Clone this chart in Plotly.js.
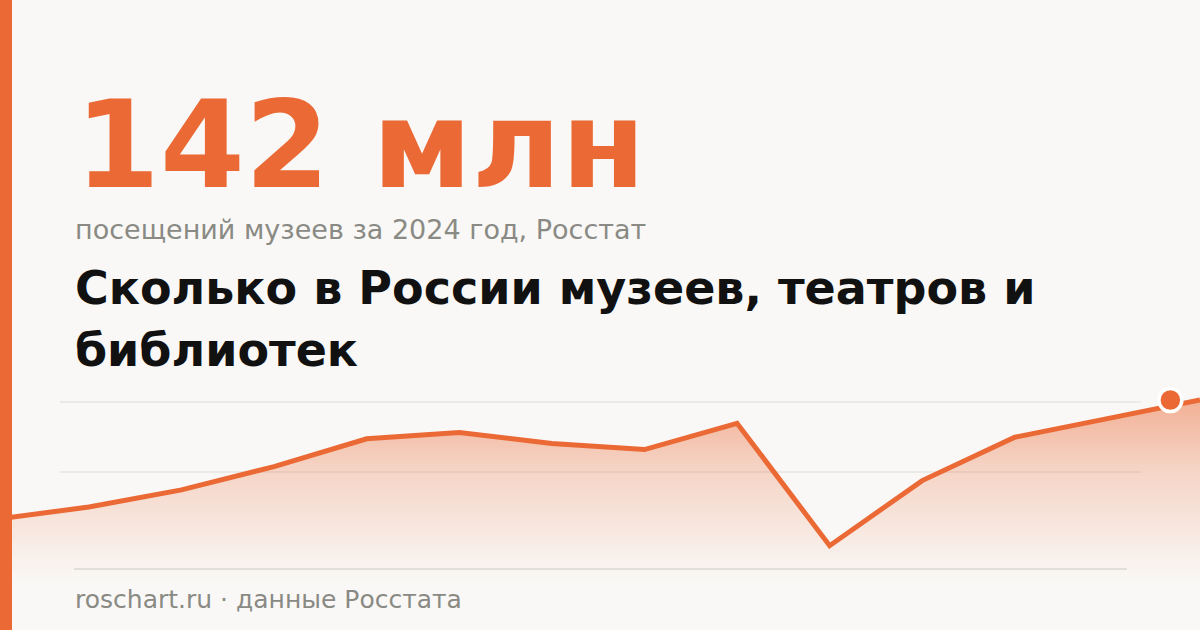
<!DOCTYPE html>
<html>
<head>
<meta charset="utf-8">
<script src="https://cdn.plot.ly/plotly-3.0.1.min.js"></script>
<style>
  html, body { margin: 0; padding: 0; background: #f9f8f6; }
  #chart { width: 1200px; height: 630px; }
</style>
</head>
<body>
<div id="chart"></div>
<script>
// museum visits, mln, Rosstat
var years = [2011, 2012, 2013, 2014, 2015, 2016, 2017, 2018, 2019, 2020, 2021, 2022, 2023, 2024];
var visits = [65, 73, 84, 99, 117, 121, 114, 110, 127, 48, 90, 118, 130, 142];

var lastYear = [years[years.length - 1]];
var lastValue = [visits[visits.length - 1]];

var orange = '#eb6935';
var grey = '#8a8a84';

var line = {
    x: years,
    y: visits,
    type: 'scatter',
    mode: 'lines',
    line: { color: orange, width: 5 },
    fill: 'tozeroy',
    fillgradient: {
        type: 'vertical',
        start: 24,
        stop: 142,
        colorscale: [
            [0, 'rgba(235,105,53,0)'],
            [0.6, 'rgba(235,105,53,0.24)'],
            [1, 'rgba(235,105,53,0.5)']
        ]
    },
    hoverinfo: 'skip'
};

// end dot sits a bit inside the right edge, so it gets its own shifted x axis
var dot = {
    x: lastYear,
    y: lastValue,
    xaxis: 'x2',
    type: 'scatter',
    mode: 'markers',
    marker: { color: orange, size: 23, line: { color: '#ffffff', width: 3.5 } },
    hoverinfo: 'skip'
};

function note(text, ypx, size, color, bold) {
    return {
        text: bold ? '<b>' + text + '</b>' : text,
        xref: 'paper', yref: 'paper',
        x: 73 / 1200, y: 1 - ypx / 630,
        xanchor: 'left', yanchor: 'middle',
        showarrow: false,
        font: { family: 'DejaVu Sans', size: size, color: color }
    };
}

var layout = {
    width: 1200,
    height: 630,
    margin: { l: 0, r: 0, t: 0, b: 0 },
    paper_bgcolor: '#f9f8f6',
    plot_bgcolor: '#f9f8f6',
    showlegend: false,
    xaxis: { range: [2011.04, 2024], visible: false, fixedrange: true },
    xaxis2: { range: [2011.36, 2024.32], overlaying: 'x', visible: false, fixedrange: true },
    yaxis: { range: [-6.4, 400.1], visible: false, fixedrange: true },
    shapes: [
        // left accent bar
        { type: 'rect', xref: 'paper', yref: 'paper', x0: 0, x1: 12 / 1200, y0: 0, y1: 1,
          fillcolor: orange, line: { width: 0 }, layer: 'above' },
        // light guide lines
        { type: 'line', xref: 'paper', yref: 'paper', x0: 60 / 1200, x1: 1141 / 1200,
          y0: 1 - 402 / 630, y1: 1 - 402 / 630, line: { color: '#ebeae6', width: 2 }, layer: 'below' },
        { type: 'line', xref: 'paper', yref: 'paper', x0: 60 / 1200, x1: 1141 / 1200,
          y0: 1 - 472 / 630, y1: 1 - 472 / 630, line: { color: '#ebeae6', width: 2 }, layer: 'below' },
        // bottom rule
        { type: 'line', xref: 'paper', yref: 'paper', x0: 74 / 1200, x1: 1127 / 1200,
          y0: 1 - 569 / 630, y1: 1 - 569 / 630, line: { color: '#e0dfda', width: 2 }, layer: 'above' }
    ],
    annotations: [
        note('142 млн', 145, 122, orange, true),
        note('посещений музеев за 2024 год, Росстат', 229, 27, grey, false),
        note('Сколько в России музеев, театров и', 288, 46, '#111111', true),
        note('библиотек', 350, 46, '#111111', true),
        note('roschart.ru · данные Росстата', 599, 25, grey, false)
    ]
};

Plotly.newPlot(document.getElementById('chart'), [line, dot], layout, { displayModeBar: false, staticPlot: true });
</script>
</body>
</html>
